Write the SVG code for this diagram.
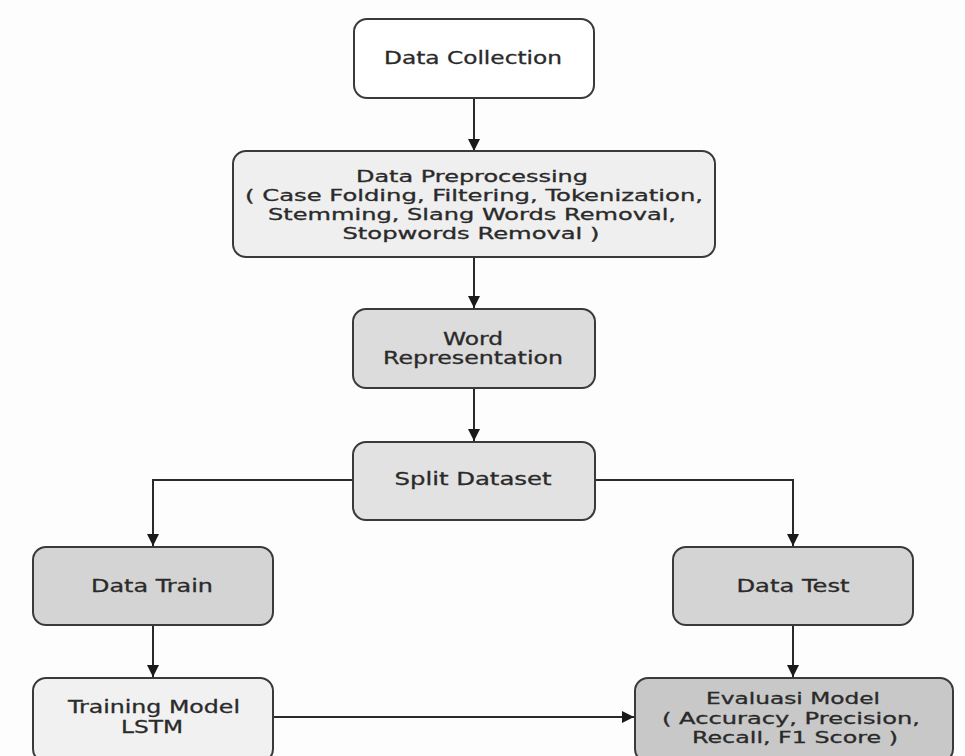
<svg xmlns="http://www.w3.org/2000/svg" width="965" height="756" viewBox="0 0 965 756">
<defs>
<style>
.box{stroke:#3a3a3a;stroke-width:2}
.t{font-family:"DejaVu Sans","Liberation Sans",sans-serif;font-size:17px;fill:#2a2a2a;text-anchor:middle;stroke:#2a2a2a;stroke-width:0.3}
.m{font-size:15.5px}
.c{fill:none;stroke:#2a2a2a;stroke-width:2}
</style>
<marker id="ah" markerUnits="userSpaceOnUse" markerWidth="14" markerHeight="12" refX="12" refY="6" orient="auto">
<path d="M0,0 L12,6 L0,12 Z" fill="#1a1a1a"/>
</marker>
</defs>
<rect width="965" height="756" fill="#fdfdfd"/>
<g id="connectors">
<line class="c" x1="474" y1="98" x2="474" y2="151" marker-end="url(#ah)"/>
<line class="c" x1="474" y1="257" x2="474" y2="308" marker-end="url(#ah)"/>
<line class="c" x1="474" y1="388" x2="474" y2="441" marker-end="url(#ah)"/>
<polyline class="c" points="353,480 153,480 153,546" marker-end="url(#ah)"/>
<polyline class="c" points="595,480 793,480 793,546" marker-end="url(#ah)"/>
<line class="c" x1="153" y1="625" x2="153" y2="677" marker-end="url(#ah)"/>
<line class="c" x1="793" y1="625" x2="793" y2="677" marker-end="url(#ah)"/>
<line class="c" x1="273" y1="717" x2="634" y2="717" marker-end="url(#ah)"/>
</g>
<g id="data-collection">
<rect class="box" x="354" y="19" width="240" height="79" rx="13" fill="#ffffff" stroke="#1a1a1a"/>
<text class="t" x="473" y="64" textLength="178" lengthAdjust="spacingAndGlyphs">Data Collection</text>
</g>
<g id="data-preprocessing">
<rect class="box" x="233" y="151" width="482" height="106" rx="13" fill="#efefef"/>
<text class="t m" x="472" y="182" textLength="232" lengthAdjust="spacingAndGlyphs">Data Preprocessing</text>
<text class="t m" x="474" y="201" textLength="458" lengthAdjust="spacingAndGlyphs">( Case Folding, Filtering, Tokenization,</text>
<text class="t m" x="472" y="220" textLength="408" lengthAdjust="spacingAndGlyphs">Stemming, Slang Words Removal,</text>
<text class="t m" x="471" y="239" textLength="257" lengthAdjust="spacingAndGlyphs">Stopwords Removal )</text>
</g>
<g id="word-representation">
<rect class="box" x="353" y="309" width="242" height="79" rx="13" fill="#dcdcdc"/>
<text class="t" x="473" y="345" textLength="60" lengthAdjust="spacingAndGlyphs">Word</text>
<text class="t" x="473" y="364" textLength="180" lengthAdjust="spacingAndGlyphs">Representation</text>
</g>
<g id="split-dataset">
<rect class="box" x="353" y="442" width="242" height="78" rx="13" fill="#e2e2e2"/>
<text class="t" x="473" y="485" textLength="157" lengthAdjust="spacingAndGlyphs">Split Dataset</text>
</g>
<g id="data-train">
<rect class="box" x="33" y="547" width="240" height="78" rx="13" fill="#d4d4d4"/>
<text class="t" x="152" y="592" textLength="122" lengthAdjust="spacingAndGlyphs">Data Train</text>
</g>
<g id="data-test">
<rect class="box" x="673" y="547" width="240" height="78" rx="13" fill="#d4d4d4"/>
<text class="t" x="793" y="592" textLength="113" lengthAdjust="spacingAndGlyphs">Data Test</text>
</g>
<g id="training-model">
<rect class="box" x="33" y="678" width="240" height="84" rx="13" fill="#f1f1f1"/>
<text class="t" x="154" y="713" textLength="172" lengthAdjust="spacingAndGlyphs">Training Model</text>
<text class="t" x="152" y="733" textLength="62" lengthAdjust="spacingAndGlyphs">LSTM</text>
</g>
<g id="evaluasi-model">
<rect class="box" x="635" y="678" width="318" height="84" rx="13" fill="#c8c8c8"/>
<text class="t m" x="793" y="704" textLength="174" lengthAdjust="spacingAndGlyphs">Evaluasi Model</text>
<text class="t m" x="791" y="724" textLength="258" lengthAdjust="spacingAndGlyphs">( Accuracy, Precision,</text>
<text class="t m" x="795" y="743" textLength="206" lengthAdjust="spacingAndGlyphs">Recall, F1 Score )</text>
</g>
</svg>
